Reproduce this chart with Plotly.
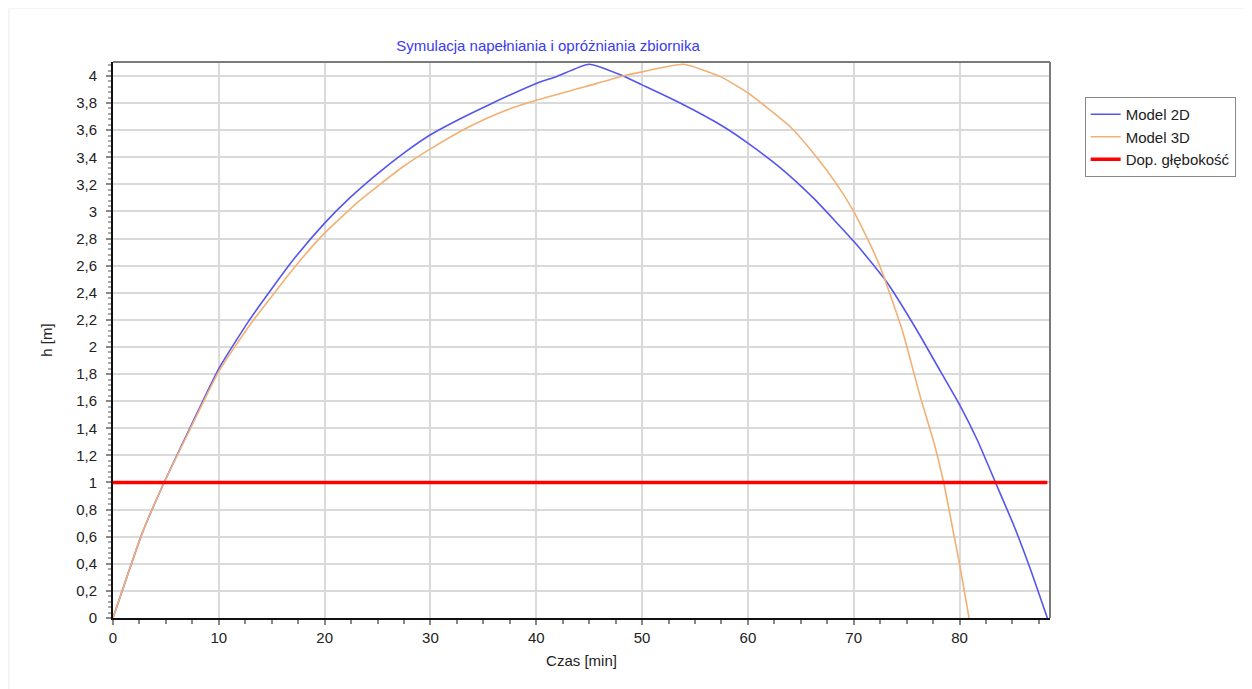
import plotly.graph_objects as go

# Model 2D (blue)
t_2d = [0, 2.78, 4.83, 7.2, 10, 12.9, 15, 17, 20, 22.35, 24.87, 27.7, 30, 32.45, 35.6,
        40, 41.9, 45, 48.2, 50, 53.6, 57.7, 60, 63.1, 66.2, 70, 71.6, 73.2, 76, 78.2,
        80.1, 81.7, 83.4, 85.2, 86.7, 88.3]
h_2d = [0, 0.63, 1.0, 1.39, 1.84, 2.2, 2.43, 2.64, 2.914, 3.098, 3.27, 3.443, 3.566, 3.67, 3.79,
        3.945, 3.995, 4.086, 4.0, 3.934, 3.8, 3.625, 3.504, 3.32, 3.098, 2.78, 2.63, 2.47, 2.12, 1.82,
        1.56, 1.31, 1.0, 0.67, 0.36, 0]

# Model 3D (orange)
t_3d = [0, 2.78, 4.83, 7.2, 10, 13, 17.6, 20, 23.3, 27.4, 30, 33.7, 36.9, 40, 44.6, 48.2,
        50, 53.9, 57.4, 60, 64, 66.5, 68.4, 70, 71.9, 72.7, 74.6, 76.3, 77.6, 78.5, 79.5,
        80, 80.9]
h_3d = [0, 0.63, 1.0, 1.38, 1.82, 2.17, 2.63, 2.84, 3.08, 3.33, 3.462, 3.627, 3.74, 3.82, 3.92, 4.0,
        4.03, 4.086, 3.995, 3.875, 3.625, 3.40, 3.2, 3.0, 2.70, 2.55, 2.12, 1.63, 1.29, 1.0, 0.6,
        0.4, 0]

# Dopuszczalna głębokość (red)
t_limit = [0, 88.3]
h_limit = [1.0, 1.0]

names = ["Model 2D", "Model 3D", "Dop. głębokość"]
title_text = "Symulacja napełniania i opróżniania zbiornika"
x_title = "Czas [min]"
y_title = "h [m]"

FONT = "Liberation Sans, Arial, sans-serif"

fig = go.Figure()
fig.add_trace(go.Scatter(x=t_2d, y=h_2d, mode="lines", name=names[0],
                         line=dict(color="#5555ee", width=1.6, shape="spline", smoothing=0.5)))
fig.add_trace(go.Scatter(x=t_3d, y=h_3d, mode="lines", name=names[1],
                         line=dict(color="#f2b074", width=1.6, shape="spline", smoothing=0.5)))
fig.add_trace(go.Scatter(x=t_limit, y=h_limit, mode="lines", name=names[2],
                         line=dict(color="#ff0000", width=3.5)))

# white panel on light-gray page
fig.add_shape(type="rect", xref="paper", yref="paper", x0=-0.11, x1=1.4, y0=-0.3, y1=1.095,
              fillcolor="white", line=dict(width=0), layer="below")
# top and right borders (gray)
fig.add_shape(type="line", xref="paper", yref="paper", x0=0, x1=1, y0=1, y1=1,
              line=dict(color="#7a7a7a", width=2))
fig.add_shape(type="line", xref="paper", yref="paper", x0=1, x1=1, y0=0, y1=1,
              line=dict(color="#7a7a7a", width=2))

fig.update_layout(
    width=1244, height=681,
    margin=dict(l=105, r=202, t=54, b=71),
    paper_bgcolor="#f5f5f5",
    plot_bgcolor="white",
    separators=", ",
    font=dict(family=FONT, size=15, color="#222222"),
    title=dict(text=title_text, x=(548 - 113) / 937, xref="paper", xanchor="center",
               y=1 - 38 / 681, yref="container", yanchor="middle",
               font=dict(family=FONT, size=15, color="#3a3af0")),
    showlegend=True,
    legend=dict(x=1.037, y=0.937, xanchor="left", yanchor="top",
                bordercolor="#888888", borderwidth=1, bgcolor="white",
                font=dict(family=FONT, size=15, color="#222222"),
                tracegroupgap=0, itemwidth=30),
)

fig.update_xaxes(
    range=[0, 88.55], dtick=10, tick0=0,
    showgrid=True, gridcolor="#dadada", gridwidth=1.5,
    showline=True, linecolor="#111111", linewidth=2,
    ticks="outside", ticklen=5, tickcolor="#888888", tickwidth=1.5,
    minor=dict(dtick=2.5, ticks="outside", ticklen=4, tickcolor="#888888", showgrid=False),
    zeroline=False,
    title=dict(text=x_title, font=dict(family=FONT, size=15, color="#222222"), standoff=10),
)
fig.update_yaxes(
    range=[0, 4.103], dtick=0.2, tick0=0,
    showgrid=True, gridcolor="#dadada", gridwidth=1.5,
    showline=True, linecolor="#111111", linewidth=2,
    ticks="outside", ticklen=5, tickcolor="#888888", tickwidth=1.5,
    ticklabelstandoff=6,
    minor=dict(dtick=0.04, ticks="outside", ticklen=3, tickcolor="#aaaaaa", showgrid=False),
    zeroline=False,
    title=dict(text=y_title, font=dict(family=FONT, size=15, color="#222222"), standoff=20),
)

fig.write_html("out.html")
